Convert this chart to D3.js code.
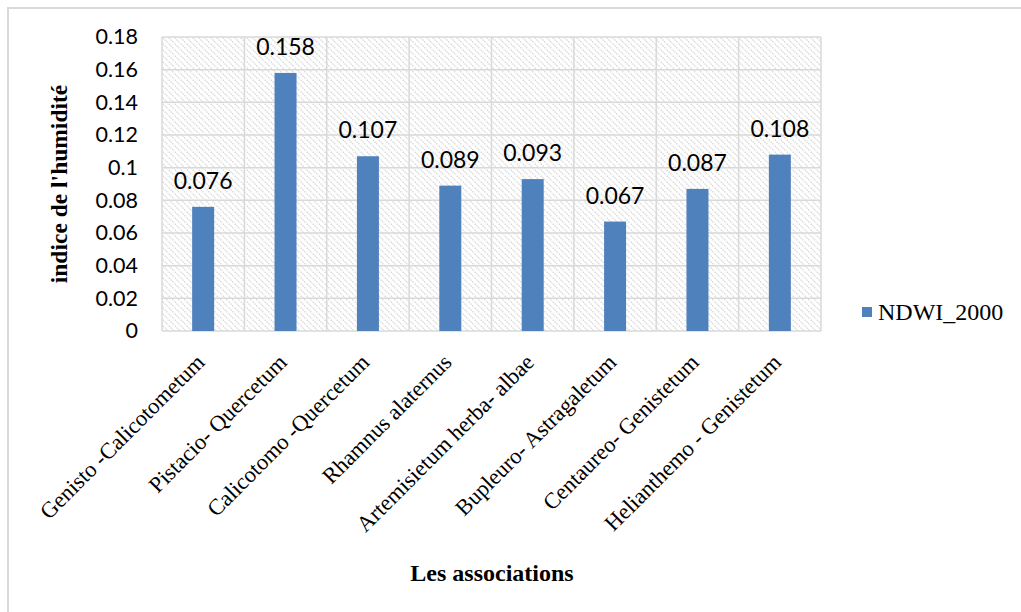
<!DOCTYPE html>
<head>
<meta charset="utf-8">
<script src="https://d3js.org/d3.v7.min.js"></script>
<style>
  body { margin: 0; background: #fff; }
</style>
</head>
<body>
<div id="chart"></div>
<script>
// data
const associations = ["Genisto -Calicotometum", "Pistacio- Quercetum", "Calicotomo -Quercetum",
  "Rhamnus alaternus", "Artemisietum herba- albae", "Bupleuro- Astragaletum",
  "Centaureo- Genistetum", "Helianthemo - Genistetum"];
const ndwi2000 = [0.076, 0.158, 0.107, 0.089, 0.093, 0.067, 0.087, 0.108];
const yTicks = [0, 0.02, 0.04, 0.06, 0.08, 0.1, 0.12, 0.14, 0.16, 0.18];
const seriesName = "NDWI_2000";

const W = 1021, H = 612;
const margin = {top: 37, right: 200, bottom: 281, left: 162};
const width = W - margin.left - margin.right,
      height = H - margin.top - margin.bottom;

const svg = d3.select("#chart").append("svg")
  .attr("width", W).attr("height", H);

// hatch pattern for plot background
const defs = svg.append("defs");
const pat = defs.append("pattern")
  .attr("id", "hatch")
  .attr("patternUnits", "userSpaceOnUse")
  .attr("width", 6).attr("height", 6);
pat.append("path")
  .attr("d", "M-1,-1 L7,7 M-1,5 L1,7 M5,-1 L7,1")
  .attr("stroke", "#d6d6d6")
  .attr("stroke-width", 1.3)
  .attr("stroke-dasharray", "1.5,1");

// outer frame (top + left only visible)
svg.append("path")
  .attr("d", `M8,${H} L8,8 L${W},8`)
  .attr("fill", "none")
  .attr("stroke", "#d9d9d9")
  .attr("stroke-width", 2);

const g = svg.append("g")
  .attr("transform", `translate(${margin.left},${margin.top})`);

const x = d3.scaleBand()
  .domain(associations)
  .range([0, width])
  .paddingInner(0.733).paddingOuter(0.366);

const xCat = d3.scaleBand().domain(associations).range([0, width]);

const y = d3.scaleLinear()
  .domain([0, 0.18])
  .range([height, 0]);

g.append("rect")
  .attr("width", width).attr("height", height)
  .attr("fill", "url(#hatch)");

// gridlines
g.append("g")
  .selectAll("line")
  .data(yTicks)
  .join("line")
  .attr("x1", 0).attr("x2", width)
  .attr("y1", d => y(d)).attr("y2", d => y(d))
  .attr("stroke", "#d9d9d9").attr("stroke-width", 1.5);

g.append("g")
  .selectAll("line")
  .data(associations.concat(["end"]))
  .join("line")
  .attr("x1", (d, i) => i * xCat.step()).attr("x2", (d, i) => i * xCat.step())
  .attr("y1", 0).attr("y2", height)
  .attr("stroke", "#d9d9d9").attr("stroke-width", 1.5);

// y axis
const yAxis = g.append("g")
  .call(d3.axisLeft(y).tickValues(yTicks).tickSize(0).tickPadding(24)
    .tickFormat(d => String(+d.toFixed(2))));
yAxis.select(".domain").remove();
yAxis.selectAll("text")
  .style("font-family", "Lato, 'Open Sans', sans-serif")
  .style("font-size", "21.5px")
  .attr("fill", "#000");

// bars
g.selectAll(".bar")
  .data(ndwi2000)
  .join("rect")
  .attr("class", "bar")
  .attr("x", (d, i) => x(associations[i]))
  .attr("y", d => y(d))
  .attr("width", x.bandwidth())
  .attr("height", d => height - y(d))
  .attr("fill", "#4F81BD");

// value labels
g.selectAll(".lbl")
  .data(ndwi2000)
  .join("text")
  .attr("class", "lbl")
  .attr("x", (d, i) => x(associations[i]) + x.bandwidth() / 2)
  .attr("y", d => y(d) - 18)
  .attr("text-anchor", "middle")
  .style("font-family", "Lato, 'Open Sans', sans-serif")
  .style("font-size", "23px")
  .text(d => d.toFixed(3));

// x labels
g.selectAll(".xl")
  .data(associations)
  .join("text")
  .attr("class", "xl")
  .attr("transform", d => `translate(${xCat(d) + xCat.bandwidth() / 2 - 3},${height + 27}) rotate(-45)`)
  .attr("text-anchor", "end")
  .attr("dy", "0.35em")
  .style("font-family", "'Liberation Serif', 'Times New Roman', serif")
  .style("font-size", "22.5px")
  .text(d => d);

// axis titles
svg.append("text")
  .attr("x", 492).attr("y", 581)
  .attr("text-anchor", "middle")
  .style("font-family", "'Liberation Serif', serif")
  .style("font-weight", "bold")
  .style("font-size", "24px")
  .text("Les associations");

svg.append("text")
  .attr("transform", "translate(67,184) rotate(-90)")
  .attr("text-anchor", "middle")
  .style("font-family", "'Liberation Serif', serif")
  .style("font-weight", "bold")
  .style("font-size", "23.5px")
  .text("indice de l'humidité");

// legend
const leg = svg.append("g").attr("transform", "translate(862,307)");
leg.append("rect").attr("width", 10).attr("height", 10).attr("fill", "#4F81BD");
leg.append("text")
  .attr("x", 16).attr("y", 5).attr("dy", "0.35em")
  .style("font-family", "'Liberation Serif', serif")
  .style("font-size", "24px")
  .text(seriesName);
</script>
</body>
